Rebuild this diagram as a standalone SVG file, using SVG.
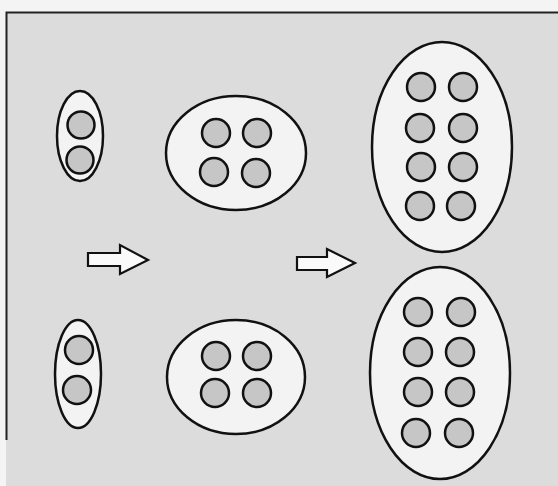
<svg xmlns="http://www.w3.org/2000/svg" width="558" height="486" viewBox="0 0 558 486">
<style>
.cell{fill:#f3f3f3;stroke:#111;stroke-width:2.5}
.dot{fill:#c6c6c6;stroke:#111;stroke-width:2.5}
.arrow{fill:#fafafa;stroke:#111;stroke-width:2.2;stroke-linejoin:miter}
</style>
<rect x="0" y="0" width="558" height="486" fill="#f4f4f4"/>
<rect x="6" y="12" width="552" height="474" fill="#dcdcdc"/>
<path d="M6.5 440 V12.5 H558" fill="none" stroke="#222" stroke-width="2"/>
<g id="cell-tl">
<ellipse class="cell" cx="80" cy="136" rx="23" ry="45"/>
<circle class="dot" cx="81" cy="125" r="13.5"/>
<circle class="dot" cx="80" cy="160" r="13.5"/>
</g>
<g id="cell-bl">
<ellipse class="cell" cx="78" cy="374" rx="23" ry="54"/>
<circle class="dot" cx="79" cy="350" r="14"/>
<circle class="dot" cx="77" cy="390" r="14"/>
</g>
<g id="cell-tm">
<ellipse class="cell" cx="236" cy="153" rx="70" ry="57"/>
<circle class="dot" cx="216" cy="133" r="14"/>
<circle class="dot" cx="257" cy="133" r="14"/>
<circle class="dot" cx="214" cy="172" r="14"/>
<circle class="dot" cx="256" cy="173" r="14"/>
</g>
<g id="cell-bm">
<ellipse class="cell" cx="236" cy="377" rx="69" ry="57"/>
<circle class="dot" cx="216" cy="356" r="14"/>
<circle class="dot" cx="257" cy="356" r="14"/>
<circle class="dot" cx="215" cy="393" r="14"/>
<circle class="dot" cx="257" cy="393" r="14"/>
</g>
<g id="cell-tr">
<ellipse class="cell" cx="442" cy="147" rx="70" ry="105"/>
<circle class="dot" cx="421" cy="87" r="14"/>
<circle class="dot" cx="463" cy="87" r="14"/>
<circle class="dot" cx="420" cy="128" r="14"/>
<circle class="dot" cx="463" cy="128" r="14"/>
<circle class="dot" cx="421" cy="167" r="14"/>
<circle class="dot" cx="463" cy="167" r="14"/>
<circle class="dot" cx="420" cy="206" r="14"/>
<circle class="dot" cx="461" cy="206" r="14"/>
</g>
<g id="cell-br">
<ellipse class="cell" cx="440" cy="373" rx="70" ry="106"/>
<circle class="dot" cx="418" cy="312" r="14"/>
<circle class="dot" cx="461" cy="312" r="14"/>
<circle class="dot" cx="418" cy="352" r="14"/>
<circle class="dot" cx="460" cy="352" r="14"/>
<circle class="dot" cx="418" cy="392" r="14"/>
<circle class="dot" cx="460" cy="392" r="14"/>
<circle class="dot" cx="416" cy="433" r="14"/>
<circle class="dot" cx="459" cy="433" r="14"/>
</g>
<g id="connectors">
<path class="arrow" d="M88 253 H120 V245 L148 260 L120 274 V266 H88 Z"/>
<path class="arrow" d="M297 257 H327 V249 L355 263 L327 277 V270 H297 Z"/>
</g>
</svg>
